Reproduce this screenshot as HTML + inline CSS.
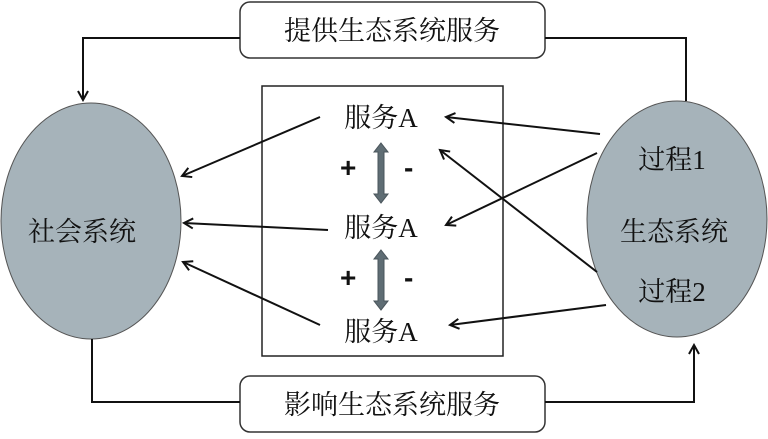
<!DOCTYPE html><html><head><meta charset="utf-8"><style>body{margin:0;background:#fff}svg text{font-family:"Liberation Serif","Noto Serif CJK SC",serif;fill:#111}</style></head><body>
<svg width="768" height="434" viewBox="0 0 768 434" xmlns="http://www.w3.org/2000/svg">
<defs><marker id="a" markerWidth="12" markerHeight="12" refX="10" refY="6" orient="auto" markerUnits="userSpaceOnUse"><path d="M1,1 L10,6 L1,11" fill="none" stroke="#111" stroke-width="2"/></marker></defs>
<ellipse cx="91" cy="221" rx="90" ry="118" fill="#a6b3ba" stroke="#555" stroke-width="1"/>
<ellipse cx="677" cy="219" rx="90" ry="118" fill="#a6b3ba" stroke="#555" stroke-width="1"/>
<rect x="262" y="86" width="241" height="270" fill="#fff" stroke="#222" stroke-width="1.5"/>
<rect x="240" y="2" width="305" height="56" rx="10" fill="#fff" stroke="#333" stroke-width="1.5"/>
<rect x="240" y="376" width="305" height="56" rx="10" fill="#fff" stroke="#333" stroke-width="1.5"/>
<g fill="none" stroke="#111" stroke-width="2">
<polyline points="240,38 83,38 83,100" marker-end="url(#a)"/>
<polyline points="545,38 686,38 686,101"/>
<polyline points="92,339 92,402 240,402"/>
<polyline points="545,402 694,402 694,345" marker-end="url(#a)"/>
<line x1="320" y1="117" x2="182" y2="176" marker-end="url(#a)"/>
<line x1="328" y1="230" x2="184" y2="223" marker-end="url(#a)"/>
<line x1="320" y1="325" x2="183" y2="262" marker-end="url(#a)"/>
<line x1="600" y1="134" x2="446" y2="117" marker-end="url(#a)"/>
<line x1="597" y1="153" x2="446" y2="225" marker-end="url(#a)"/>
<line x1="597" y1="272" x2="440" y2="150" marker-end="url(#a)"/>
<line x1="606" y1="305" x2="450" y2="325" marker-end="url(#a)"/>
</g>
<g fill="#5f6d74" stroke="#4a555b" stroke-width="1">
<path d="M381,143 L388,152 L384,152 L384,194 L388,194 L381,203 L374,194 L378,194 L378,152 L374,152 Z"/>
<path d="M381,250 L388,259 L384,259 L384,301 L388,301 L381,310 L374,301 L378,301 L378,259 L374,259 Z"/>
</g>
<g font-size="28" font-weight="bold">
<text x="340" y="177" style="font-family:'Liberation Sans',sans-serif">+</text><text x="404" y="177" style="font-family:'Liberation Sans',sans-serif">-</text>
<text x="340" y="287" style="font-family:'Liberation Sans',sans-serif">+</text><text x="404" y="287" style="font-family:'Liberation Sans',sans-serif">-</text>
</g>
<g font-size="27">
<text x="392" y="40" text-anchor="middle">提供生态系统服务</text>
<text x="392" y="414" text-anchor="middle">影响生态系统服务</text>
<text x="381" y="127" text-anchor="middle">服务A</text>
<text x="381" y="237" text-anchor="middle">服务A</text>
<text x="381" y="341" text-anchor="middle">服务A</text>
<text x="82" y="241" text-anchor="middle">社会系统</text>
<text x="672" y="169" text-anchor="middle">过程1</text>
<text x="674" y="241" text-anchor="middle">生态系统</text>
<text x="672" y="301" text-anchor="middle">过程2</text>
</g>
</svg></body></html>
